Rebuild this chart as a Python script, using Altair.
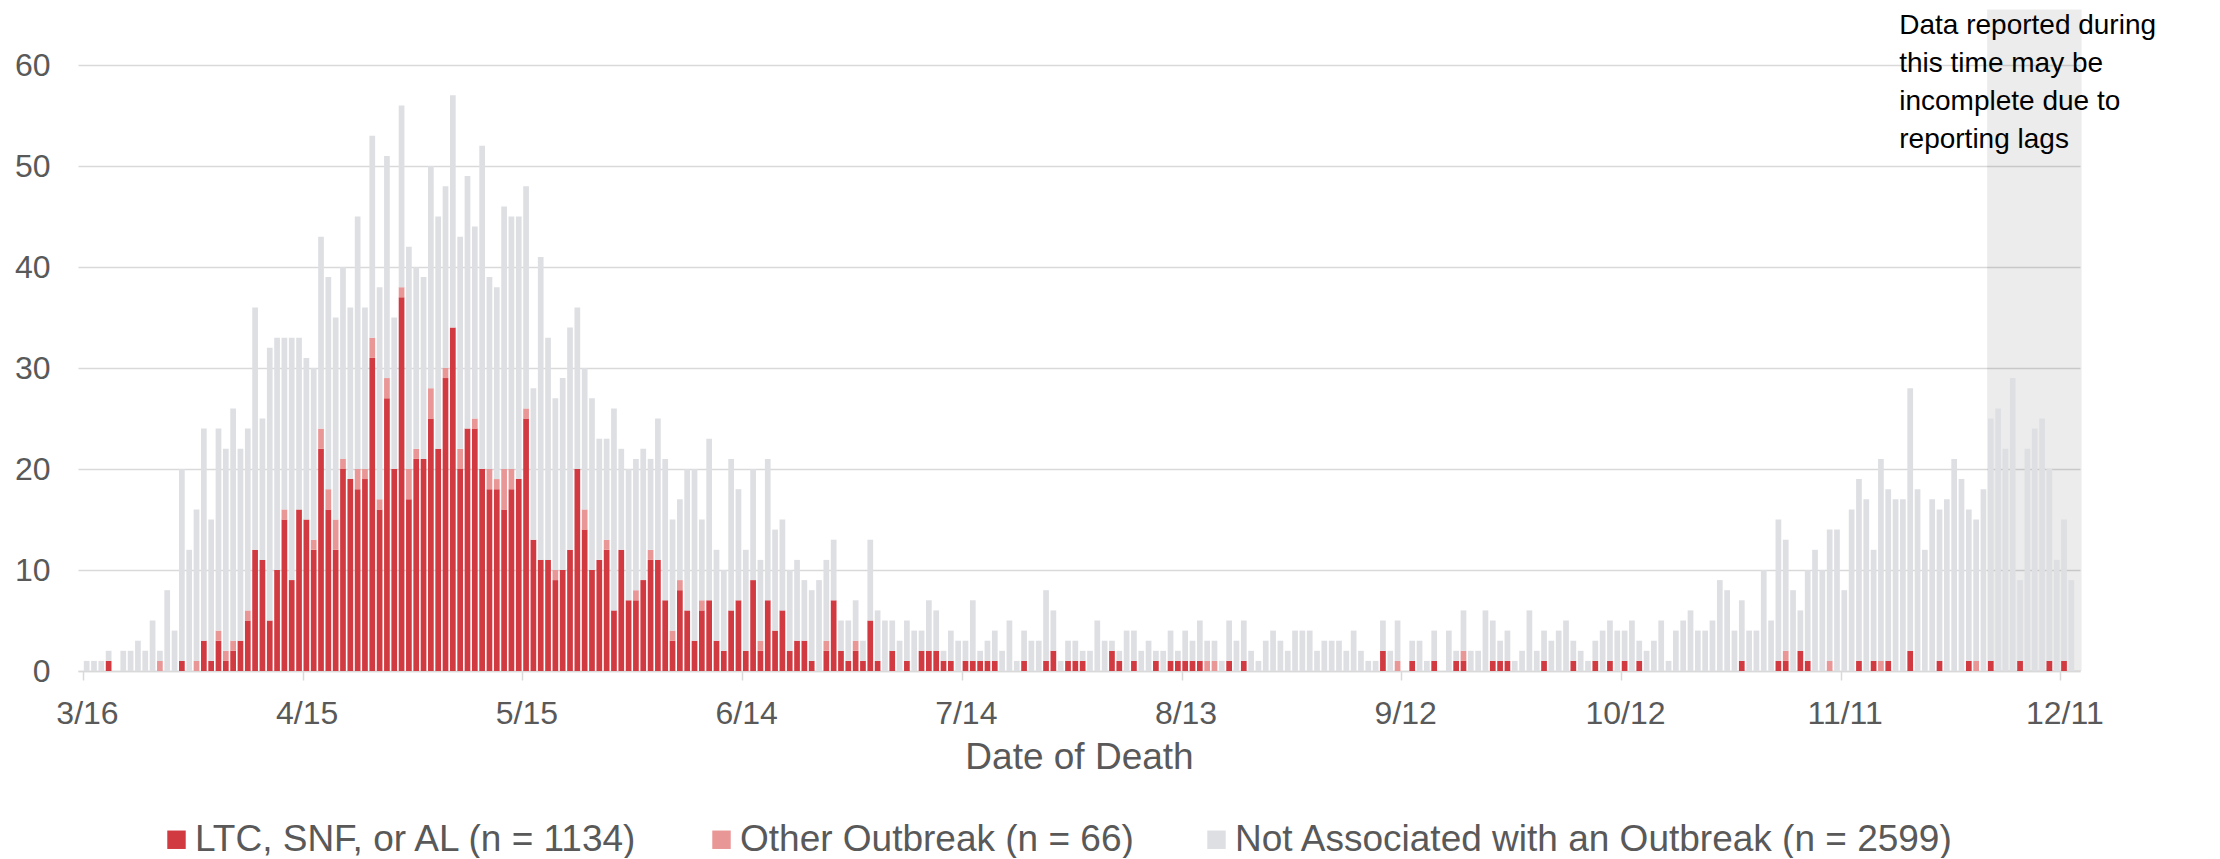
import json
import altair as alt
import pandas as pd

FONT = "Liberation Sans"

# Daily deaths, day 0 = 3/16
ltc = [
    0, 0, 0, 1, 0, 0, 0, 0, 0, 0,
    0, 0, 0, 1, 0, 0, 3, 1, 3, 1,
    2, 3, 5, 12, 11, 5, 10, 15, 9, 16,
    15, 12, 22, 16, 12, 20, 19, 18, 19, 31,
    16, 27, 20, 37, 17, 21, 21, 25, 22, 29,
    34, 20, 24, 24, 20, 18, 18, 16, 18, 19,
    25, 13, 11, 11, 9, 10, 12, 20, 14, 10,
    11, 12, 6, 12, 7, 7, 9, 11, 11, 7,
    3, 8, 6, 3, 6, 7, 3, 2, 6, 7,
    2, 9, 2, 7, 4, 6, 2, 3, 3, 1,
    0, 2, 7, 2, 1, 2, 1, 5, 1, 0,
    2, 0, 1, 0, 2, 2, 2, 1, 1, 0,
    1, 1, 1, 1, 1, 0, 0, 0, 1, 0,
    0, 1, 2, 0, 1, 1, 1, 0, 0, 0,
    2, 1, 0, 1, 0, 0, 1, 0, 1, 1,
    1, 1, 1, 0, 0, 0, 1, 0, 1, 0,
    0, 0, 0, 0, 0, 0, 0, 0, 0, 0,
    0, 0, 0, 0, 0, 0, 0, 2, 0, 0,
    0, 1, 0, 0, 1, 0, 0, 1, 1, 0,
    0, 0, 1, 1, 1, 0, 0, 0, 0, 1,
    0, 0, 0, 1, 0, 0, 1, 0, 1, 0,
    1, 0, 1, 0, 0, 0, 0, 0, 0, 0,
    0, 0, 0, 0, 0, 0, 1, 0, 0, 0,
    0, 1, 1, 0, 2, 1, 0, 0, 0, 0,
    0, 0, 1, 0, 1, 0, 1, 0, 0, 2,
    0, 0, 0, 1, 0, 0, 0, 1, 0, 0,
    1, 0, 0, 0, 1, 0, 0, 0, 1, 0,
    1, 0,
]

other = [
    0, 0, 0, 0, 0, 0, 0, 0, 0, 0,
    1, 0, 0, 0, 0, 1, 0, 0, 1, 1,
    1, 0, 1, 0, 0, 0, 0, 1, 0, 0,
    0, 1, 2, 2, 3, 1, 0, 2, 1, 2,
    1, 2, 0, 1, 3, 1, 0, 3, 0, 1,
    0, 2, 0, 1, 0, 2, 1, 4, 2, 0,
    1, 0, 0, 0, 1, 0, 0, 0, 2, 0,
    0, 1, 0, 0, 0, 1, 0, 1, 0, 0,
    1, 1, 0, 0, 1, 0, 0, 0, 0, 0,
    0, 0, 1, 0, 0, 0, 0, 0, 0, 0,
    0, 1, 0, 0, 0, 1, 0, 0, 0, 0,
    0, 0, 0, 0, 0, 0, 0, 0, 0, 0,
    0, 0, 0, 0, 0, 0, 0, 0, 0, 0,
    0, 0, 0, 0, 0, 0, 0, 0, 0, 0,
    0, 0, 0, 0, 0, 0, 0, 0, 0, 0,
    0, 0, 0, 1, 1, 0, 0, 0, 0, 0,
    0, 0, 0, 0, 0, 0, 0, 0, 0, 0,
    0, 0, 0, 0, 0, 0, 0, 0, 0, 1,
    0, 0, 0, 0, 0, 0, 0, 0, 1, 0,
    0, 0, 0, 0, 0, 0, 0, 0, 0, 0,
    0, 0, 0, 0, 0, 0, 0, 0, 0, 0,
    0, 0, 0, 0, 0, 0, 0, 0, 0, 0,
    0, 0, 0, 0, 0, 0, 0, 0, 0, 0,
    0, 0, 1, 0, 0, 0, 0, 0, 1, 0,
    0, 0, 0, 0, 0, 1, 0, 0, 0, 0,
    0, 0, 0, 0, 0, 0, 0, 0, 1, 0,
    0, 0, 0, 0, 0, 0, 0, 0, 0, 0,
    0, 0,
]

not_assoc = [
    1, 1, 1, 1, 0, 2, 2, 3, 2, 5,
    1, 8, 4, 19, 12, 15, 21, 14, 20, 20,
    23, 19, 18, 24, 14, 27, 23, 17, 24, 17,
    16, 17, 19, 21, 20, 19, 17, 25, 16, 20,
    21, 22, 15, 18, 22, 18, 18, 22, 23, 18,
    23, 21, 25, 19, 32, 19, 19, 26, 25, 26,
    22, 15, 30, 22, 17, 19, 22, 16, 14, 17,
    12, 10, 20, 10, 13, 13, 13, 9, 14, 14,
    11, 8, 14, 17, 8, 16, 9, 8, 15, 11,
    10, 11, 8, 14, 10, 9, 8, 8, 6, 7,
    9, 8, 6, 3, 4, 4, 2, 8, 5, 5,
    3, 3, 4, 4, 2, 5, 4, 1, 3, 3,
    2, 6, 1, 2, 3, 2, 5, 1, 3, 3,
    3, 7, 4, 1, 2, 2, 1, 2, 5, 3,
    1, 1, 4, 3, 2, 3, 1, 2, 3, 1,
    3, 2, 4, 2, 2, 1, 4, 3, 4, 2,
    1, 3, 4, 3, 2, 4, 4, 4, 2, 3,
    3, 3, 2, 4, 2, 1, 1, 3, 2, 4,
    0, 2, 3, 1, 3, 0, 4, 1, 4, 2,
    2, 6, 4, 2, 3, 1, 2, 6, 2, 3,
    3, 4, 5, 2, 2, 1, 2, 4, 4, 4,
    3, 5, 2, 2, 3, 5, 1, 4, 5, 6,
    4, 4, 5, 9, 8, 4, 6, 4, 4, 10,
    5, 14, 11, 8, 4, 9, 12, 10, 13, 14,
    8, 16, 18, 17, 11, 20, 17, 17, 17, 26,
    18, 12, 17, 15, 17, 21, 19, 15, 14, 18,
    24, 26, 22, 29, 8, 22, 24, 25, 19, 11,
    14, 9,
]

tick_days = [0, 30, 60, 90, 120, 150, 180, 210, 240, 270]
tick_labels = ["3/16", "4/15", "5/15", "6/14", "7/14", "8/13", "9/12", "10/12", "11/11", "12/11"]
y_ticks = [0, 10, 20, 30, 40, 50, 60]

series_names = ["LTC, SNF, or AL", "Other Outbreak", "Not Associated with an Outbreak"]
series_values = [ltc, other, not_assoc]
series_colors = ["#D13A41", "#E99696", "#DEDFE3"]

note_lines = ["Data reported during", "this time may be", "incomplete due to", "reporting lags"]
lag_start_day = 260      # 12/1
lag_end_day = 272.9
lag_top = 65.5
note_x = 248.0
note_y = 63.1

# ---------------------------------------------------------------
labels = [f"{n} (n = {sum(v)})" for n, v in zip(series_names, series_values)]
rows = []
for i in range(len(ltc)):
    for k, vals in enumerate(series_values):
        rows.append({"day": i, "series": labels[k], "rank": k, "value": vals[i]})
df = pd.DataFrame(rows)

x_scale = alt.Scale(domain=[0, 272], nice=False, zero=False)
y_scale = alt.Scale(domain=[0, 60], nice=False)

label_expr = json.dumps(tick_labels) + "[round(datum.value / 30)]"

x_axis = alt.Axis(values=tick_days, labelExpr=label_expr, grid=False,
                  domainColor="#D9D9D9", domainWidth=1.5,
                  tickColor="#D9D9D9", tickWidth=1.5, tickSize=9,
                  labelFontSize=32, labelFont=FONT, labelColor="#595959",
                  labelPadding=18, labelOffset=4, labelFlush=False,
                  labelOverlap=False,
                  titleFontSize=37, titleFont=FONT, titleColor="#595959",
                  titleFontWeight="normal", titlePadding=10)
y_axis = alt.Axis(values=y_ticks, grid=True, gridColor="#D9D9D9", gridWidth=1.3,
                  domain=False, ticks=False, tickSize=0,
                  labelFontSize=32, labelFont=FONT, labelColor="#595959",
                  labelPadding=28)
X_TITLE = "Date of Death"

bars = alt.Chart(df).transform_calculate(
    x0="datum.day + 0.11", x1="datum.day + 0.89"
).mark_bar(orient="vertical", strokeWidth=0).encode(
    x=alt.X("x0:Q", scale=x_scale, title=X_TITLE, axis=x_axis),
    x2="x1:Q",
    y=alt.Y("value:Q", stack="zero", scale=y_scale, title=None, axis=y_axis),
    color=alt.Color("series:N", sort=labels,
                    scale=alt.Scale(domain=labels, range=series_colors),
                    legend=alt.Legend(orient="none", legendX=80, legendY=756,
                                      direction="horizontal", columns=3, title=None,
                                      symbolType="square", symbolSize=340,
                                      symbolStrokeWidth=0, labelFontSize=37,
                                      labelFont=FONT, labelColor="#595959",
                                      labelOffset=0, columnPadding=64, padding=0,
                                      labelLimit=2000)),
    order=alt.Order("rank:Q", sort="ascending"),
)

shade_df = pd.DataFrame({"start": [lag_start_day], "end": [lag_end_day],
                         "bottom": [0], "top": [lag_top]})
shade = alt.Chart(shade_df).mark_rect(color="#000000", opacity=0.075).encode(
    x=alt.X("start:Q", scale=x_scale, title=X_TITLE, axis=x_axis),
    x2="end:Q",
    y=alt.Y("bottom:Q", scale=y_scale, title=None, axis=y_axis),
    y2="top:Q",
)

note_df = pd.DataFrame({"x": [note_x], "y": [note_y]})
note = alt.Chart(note_df).mark_text(
    align="left", baseline="alphabetic", fontSize=28, lineHeight=38,
    font=FONT, color="#000000", text=note_lines
).encode(
    x=alt.X("x:Q", scale=x_scale, title=X_TITLE, axis=x_axis),
    y=alt.Y("y:Q", scale=y_scale, title=None, axis=y_axis),
)

chart = alt.layer(shade, bars, note).properties(
    width=2002, height=606,
    autosize=alt.AutoSizeParams(type="none"),
    padding={"left": 70, "top": 57, "right": 120, "bottom": 187},
).configure_view(stroke=None)

chart.save("out.html", embed_options={"renderer": "svg", "actions": False})
